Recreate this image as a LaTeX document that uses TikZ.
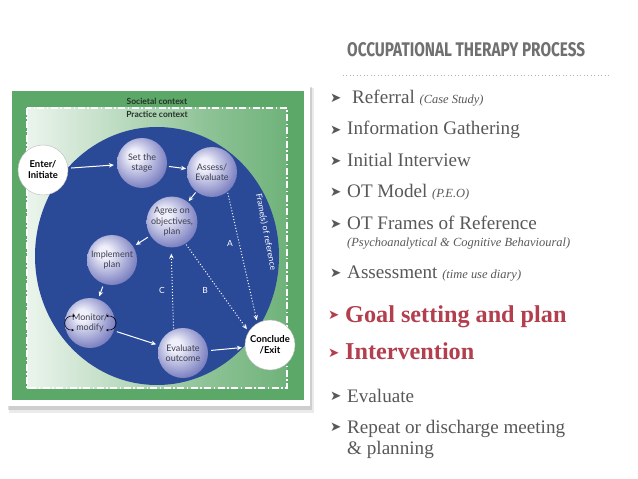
\documentclass[tikz,border=0pt]{standalone}
\usepackage{fontspec}
\setmainfont{Liberation Serif}
\newfontfamily\diag{Lato}
\newfontfamily\titlef{Fira Sans}
\newfontfamily\sym{DejaVu Sans}
\usetikzlibrary{arrows.meta}
\definecolor{ogreen}{RGB}{92,168,104}
\definecolor{oblue}{RGB}{42,74,152}
\definecolor{circlight}{RGB}{240,240,250}
\definecolor{circdark}{RGB}{118,123,190}
\definecolor{circtext}{RGB}{62,62,82}
\definecolor{itemgray}{RGB}{88,88,88}
\definecolor{titlegray}{RGB}{112,112,112}
\definecolor{hotred}{RGB}{178,62,78}
\definecolor{ctxtext}{RGB}{40,50,40}
\pgfdeclareradialshading{orb}{\pgfpoint{-9bp}{9bp}}{color(0bp)=(circlight); color(6bp)=(circlight); color(30bp)=(circdark); color(50bp)=(circdark!85!black)}
\pgfdeclarehorizontalshading{greenfade}{100bp}{color(0bp)=(white); color(25bp)=(white!88!ogreen); color(60bp)=(ogreen!70!white); color(85bp)=(ogreen); color(100bp)=(ogreen)}
\tikzset{
  stage/.style={circle, minimum size=50bp, inner sep=0pt, shade, shading=orb, text=circtext,
    font=\diag\fontsize{9}{10.5}\selectfont, align=center},
  endpt/.style={circle, minimum size=50bp, inner sep=0pt, fill=white, draw=gray!55, line width=0.4pt,
    font=\diag\bfseries\fontsize{9.5}{11}\selectfont, align=center},
  flow/.style={white, line width=1pt, -{Stealth[length=5bp,width=4.5bp]}, shorten >=3bp, shorten <=3bp},
  dots/.style={flow, dotted, line width=1pt},
  lbl/.style={text=white, font=\diag\fontsize{8.5}{9}\selectfont, inner sep=0pt},
  ctx/.style={text=ctxtext, font=\diag\bfseries\fontsize{8.5}{9}\selectfont, inner sep=0pt},
  item/.style={anchor=base west, inner sep=0pt, text=itemgray, font=\fontsize{19.2}{22}\selectfont},
  hot/.style={anchor=base west, inner sep=0pt, text=hotred, font=\bfseries\fontsize{24.3}{28}\selectfont},
  sub/.style={anchor=base west, inner sep=0pt, text=itemgray, font=\itshape\fontsize{12.5}{14}\selectfont},
  bul/.style={anchor=west, inner sep=0pt, text=itemgray, font=\sym\fontsize{13.5}{14}\selectfont},
  hotbul/.style={bul, text=hotred},
}
\newcommand{\smallit}[1]{{\itshape\fontsize{12.5}{14}\selectfont #1}}
\begin{document}
\begin{tikzpicture}[x=1bp,y=-1bp]
\useasboundingbox (0,0) rectangle (638,479);
\fill[white] (0,0) rectangle (638,479);
% picture frame with shadow
\fill[black,opacity=0.08] (9,88) rectangle (314,413);
\fill[black,opacity=0.12] (8,87) rectangle (312,410);
\fill[white] (7,85) rectangle (310,406);
\fill[ogreen] (12,91) rectangle (304,400);
\shade[shading=greenfade] (27,108) rectangle (287,388);
\draw[white, line width=1.1pt, dash pattern=on 7pt off 2.5pt on 1.5pt off 2.5pt] (27,108) rectangle (287,388);
\node[ctx] (soc) at (157,101) {Societal context};
\node[ctx] (prac) at (157,114) {Practice context};
% frame of reference
\fill[oblue] (157,256) ellipse [x radius=122, y radius=129];
\node[lbl, rotate=-79, font=\diag\fontsize{8.5}{10}\selectfont] (frame) at (266,232) {Frame(s) of reference};
% process nodes
\node[endpt] (enter) at (43,170) {Enter/\\Initiate};
\node[stage] (set) at (142,163) {Set the\\stage};
\node[stage] (assess) at (212,172) {Assess/\\Evaluate};
\node[stage] (agree) at (172,222) {Agree on\\objectives,\\plan};
\node[stage] (impl) at (112,260) {Implement\\plan};
\node[stage] (mon) at (90,323) {Monitor/\\modify};
\node[stage] (evo) at (183,353) {Evaluate\\outcome};
\node[endpt] (conc) at (270,345) {Conclude\\/Exit};
% connectors
\draw[flow] (enter) -- (set);
\draw[flow, shorten <=2bp, shorten >=1bp] (set) -- (assess);
\draw[flow, shorten <=1bp, shorten >=1bp] (assess) -- (agree);
\draw[flow] (agree) -- (impl);
\draw[flow] (impl) -- (mon);
\draw[flow] (mon) -- (evo);
\draw[flow] (evo) -- (conc);
\draw[dots, shorten <=1bp] (assess.-52) -- (conc.120);
\draw[dots, shorten <=1bp] (agree.-58) -- (conc.148);
\draw[dots, shorten <=1bp, shorten >=6bp] (evo.112) -- (agree.-92);
\node[lbl] (la) at (230,243) {A};
\node[lbl] (lb) at (205,290) {B};
\node[lbl] (lc) at (162,290) {C};
% small loop arrows on Monitor/modify
\coordinate (ml1) at (75,316);
\coordinate (ml2) at (74,330);
\coordinate (mr1) at (106,316);
\coordinate (mr2) at (106,330);
\draw[black, line width=0.6pt, {Stealth[length=2.5bp,width=2.5bp]}-{Stealth[length=2.5bp,width=2.5bp]}]
  (ml1) .. controls (62,315) and (62,331) .. (ml2);
\draw[black, line width=0.6pt, {Stealth[length=2.5bp,width=2.5bp]}-{Stealth[length=2.5bp,width=2.5bp]}]
  (mr1) .. controls (119,315) and (119,331) .. (mr2);
% right panel
\node[anchor=south west, inner sep=0pt, text=titlegray] (title) at (347,57)
  {\resizebox{238bp}{14bp}{\titlef\bfseries OCCUPATIONAL THERAPY PROCESS}};
\coordinate (sepa) at (343,75);
\coordinate (sepb) at (610,75);
\draw[gray!60, line width=0.9pt, dash pattern=on 0.9pt off 2.6pt] (sepa) -- (sepb);
\node[bul] (b1) at (330,98) {➤};
\node[item] (t1) at (352,104) {Referral \smallit{(Case Study)}};
\node[bul] (b2) at (330,130) {➤};
\node[item] (t2) at (347,135) {Information Gathering};
\node[bul] (b3) at (330,161) {➤};
\node[item] (t3) at (347,167) {Initial Interview};
\node[bul] (b4) at (330,192) {➤};
\node[item] (t4) at (347,198) {OT Model \smallit{(P.E.O)}};
\node[bul] (b5) at (330,224) {➤};
\node[item] (t5) at (347,230) {OT Frames of Reference};
\node[sub] (t5s) at (347,247) {(Psychoanalytical \& Cognitive Behavioural)};
\node[bul] (b6) at (330,273) {➤};
\node[item] (t6) at (347,278) {Assessment \smallit{(time use diary)}};
\node[hotbul] (b7) at (328,315) {➤};
\node[hot] (t7) at (345,322) {Goal setting and plan};
\node[hotbul] (b8) at (328,353) {➤};
\node[hot] (t8) at (345,359) {Intervention};
\node[bul] (b9) at (330,396) {➤};
\node[item] (t9) at (347,402) {Evaluate};
\node[bul] (b10) at (330,427) {➤};
\node[item] (t10) at (347,433) {Repeat or discharge meeting};
\node[item] (t10b) at (347,454) {\& planning};
\end{tikzpicture}
\end{document}
